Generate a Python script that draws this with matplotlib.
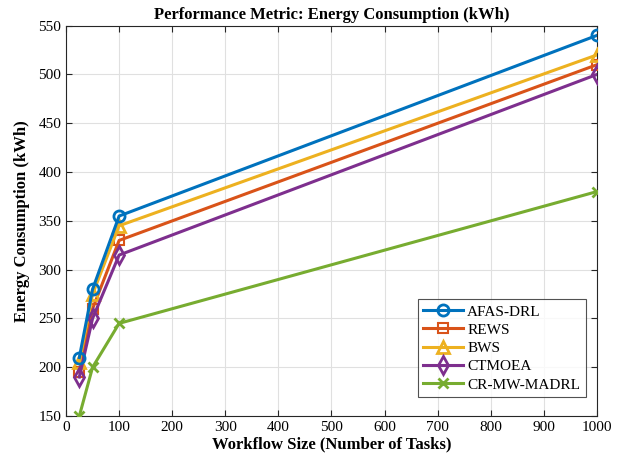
import matplotlib
matplotlib.use('Agg')
import matplotlib.pyplot as plt

workflow_size = [25, 50, 100, 1000]
afas_drl = [210, 280, 355, 540]
rews = [195, 260, 330, 510]
bws = [205, 275, 345, 520]
ctmoea = [190, 250, 315, 500]
cr_mw_madrl = [150, 200, 245, 380]

plt.rcParams['font.family'] = ['Liberation Serif', 'DejaVu Serif']

fig = plt.figure(figsize=(6.23, 4.67), dpi=100)
ax = fig.add_axes([0.106, 0.109, 0.852, 0.836])

lw = 2.2
ax.plot(workflow_size, afas_drl, '-o', color='#0072BD', lw=lw, ms=8, mfc='none', mew=2, label='AFAS-DRL', zorder=5)
ax.plot(workflow_size, rews, '-s', color='#D95319', lw=lw, ms=7, mfc='none', mew=1.5, label='REWS', zorder=4)
ax.plot(workflow_size, bws, '-^', color='#EDB120', lw=lw, ms=9, mfc='none', mew=2, label='BWS', zorder=4)
ax.plot(workflow_size, ctmoea, '-d', color='#7E2F8E', lw=lw, ms=9, mfc='none', mew=2, label='CTMOEA', zorder=4)
ax.plot(workflow_size, cr_mw_madrl, '-x', color='#77AC30', lw=lw, ms=7, mew=2, label='CR-MW-MADRL', zorder=4)

ax.set_xlim(0, 1000)
ax.set_ylim(150, 550)
ax.set_xticks(range(0, 1001, 100))
ax.set_yticks(range(150, 551, 50))
ax.grid(True, color='#e0e0e0', lw=0.8)
ax.set_axisbelow(True)
ax.tick_params(direction='in', length=4, labelsize=11, color='#262626', top=True, right=True, labeltop=False, labelright=False)
for s in ax.spines.values():
    s.set_color('#262626')
    s.set_linewidth(0.8)

ax.set_title('Performance Metric: Energy Consumption (kWh)', fontsize=12, fontweight='bold', pad=5)
ax.set_xlabel('Workflow Size (Number of Tasks)', fontsize=12, fontweight='bold', labelpad=2)
ax.set_ylabel('Energy Consumption (kWh)', fontsize=12, fontweight='bold', labelpad=6)

leg = ax.legend(loc='lower right', bbox_to_anchor=(0.979, 0.049), borderaxespad=0, fontsize=11, frameon=True,
                fancybox=False, edgecolor='#262626', handlelength=2.6, borderpad=0.35,
                labelspacing=0.3, handletextpad=0.3)
leg.get_frame().set_linewidth(0.8)

fig.savefig('out.png', dpi=100)
